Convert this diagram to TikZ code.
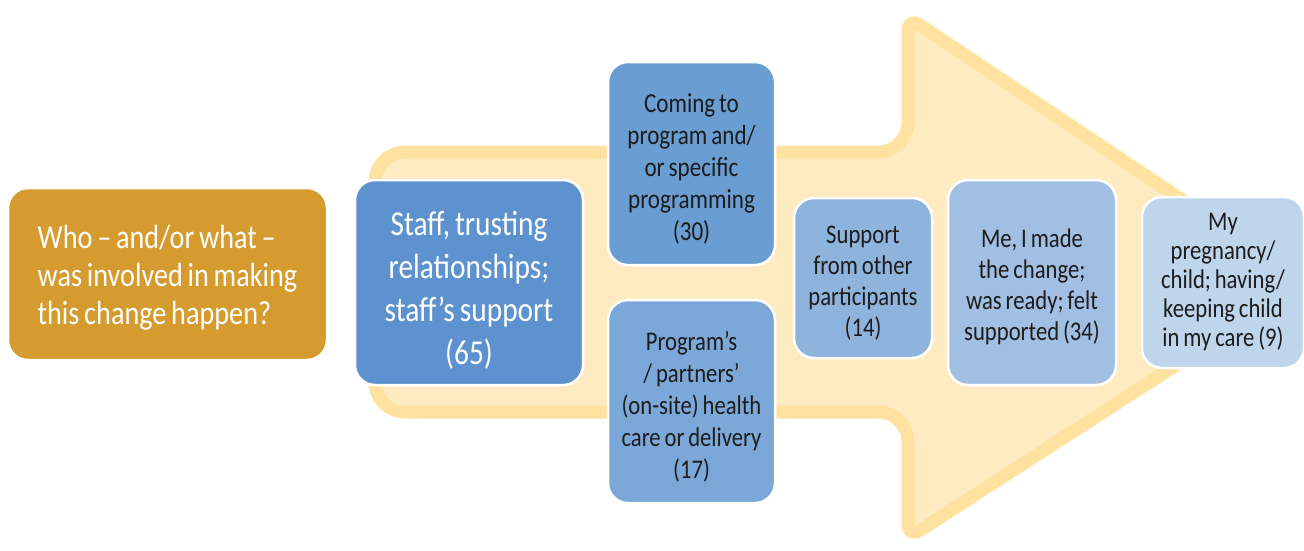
\documentclass[tikz,border=0pt]{standalone}
\usepackage{fontspec}
\setmainfont{Carlito}[FakeStretch=0.84, WordSpace=0.75]
\usetikzlibrary{positioning}

\definecolor{goldbox}{RGB}{213,155,46}
\definecolor{bluestaff}{RGB}{94,146,206}
\definecolor{bluecoming}{RGB}{106,157,210}
\definecolor{blueprogram}{RGB}{123,168,217}
\definecolor{bluesupport}{RGB}{142,179,220}
\definecolor{blueme}{RGB}{161,191,226}
\definecolor{bluemine}{RGB}{190,213,236}
\definecolor{arrowfill}{RGB}{255,235,194}
\definecolor{arrowedge}{RGB}{255,226,160}
\definecolor{darktext}{RGB}{28,28,28}

\tikzset{
  box/.style={rounded corners=20, draw=white, line width=2.5, inner sep=0,
    align=center, text=darktext},
  arrowbody/.style={fill=arrowfill, draw=arrowedge, line width=13, line join=round}
}

\begin{document}
\begin{tikzpicture}[x=1pt, y=-1pt]
  \useasboundingbox (0,0) rectangle (1304,550);

  % big arrow behind the boxes
  \draw[arrowbody, rounded corners=30] (375,152) -- (908,152)
    [rounded corners=14] -- (908,17) -- (1305,282) -- (908,538)
    [rounded corners=30] -- (908,412) -- (375,412) -- cycle;

  % question
  \node[box, fill=goldbox, text=white, align=left, minimum width=319, minimum height=172,
    font=\fontsize{33.6}{38}\selectfont] (who) at (167.5,274)
    {\rule{0pt}{30pt}Who -- and/or what --\\was involved in making\\this change happen?};

  % answers
  \node[box, fill=bluestaff, text=white, minimum width=228, minimum height=205,
    font=\fontsize{35}{43}\selectfont] (staff) at (469,282.5)
    {\rule{0pt}{40pt}Staff, trusting\\relationships;\\staff’s support\\(65)};
  \node[box, fill=bluecoming, minimum width=167, minimum height=203,
    font=\fontsize{27.5}{32}\selectfont] (coming) at (691.5,163.5)
    {\rule{0pt}{30pt}Coming to\\program and/\\or specific\\programming\\(30)};
  \node[box, fill=blueprogram, minimum width=167, minimum height=203,
    font=\fontsize{27}{32}\selectfont] (program) at (691.5,401.5)
    {\rule{0pt}{30pt}Program’s\\/ partners’\\(on-site) health\\care or delivery\\(17)};
  \node[box, fill=bluesupport, minimum width=138, minimum height=160,
    font=\fontsize{27}{31}\selectfont] (support) at (863,278)
    {\rule{0pt}{28pt}Support\\from other\\participants\\(14)};
  \node[box, fill=blueme, minimum width=168, minimum height=205,
    font=\fontsize{27}{31}\selectfont] (me) at (1032,282.5)
    {\rule{0pt}{28pt}Me, I made\\the change;\\was ready; felt\\supported (34)};
  \node[box, fill=bluemine, minimum width=162, minimum height=171,
    font=\fontsize{27}{29}\selectfont] (mine) at (1223,282.5)
    {My\\pregnancy/\\child; having/\\keeping child\\in my care (9)};
\end{tikzpicture}
\end{document}
